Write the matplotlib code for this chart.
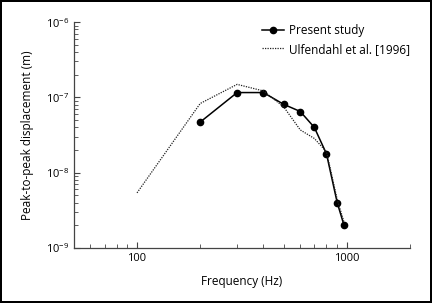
import matplotlib
matplotlib.use("Agg")
from matplotlib import pyplot as plt
from matplotlib.ticker import NullFormatter

plt.rcParams['font.family'] = ['Open Sans', 'DejaVu Sans']

# present study
freq_present = [200, 300, 400, 500, 600, 700, 800, 900, 970]
disp_present = [4.7e-8, 1.16e-7, 1.16e-7, 8.1e-8, 6.5e-8, 4.0e-8, 1.78e-8, 4.0e-9, 2.0e-9]

# Ulfendahl et al. [1996]
freq_ulf = [100, 200, 300, 400, 500, 600, 700, 800, 900, 970]
disp_ulf = [5.4e-9, 8.3e-8, 1.49e-7, 1.22e-7, 7.5e-8, 3.7e-8, 2.85e-8, 1.9e-8, 4.4e-9, 2.2e-9]

fig = plt.figure(figsize=(4.32, 3.03), dpi=100)
fig.patch.set_edgecolor('black')
fig.patch.set_linewidth(1.5)
ax = fig.add_axes([0.171, 0.1815, 0.778, 0.7455])

ax.plot(freq_present, disp_present, color='black', marker='o', markersize=4.5,
        linewidth=1.1, label='Present study')
ax.plot(freq_ulf, disp_ulf, color='#222222', linestyle=(0, (1, 1)), linewidth=0.9,
        label='Ulfendahl et al. [1996]')

ax.set_xscale('log')
ax.set_yscale('log')
ax.set_xlim(50, 2000)
ax.set_ylim(1e-9, 1e-6)
ax.set_xticks([100, 1000])
ax.set_xticklabels(['100', '1000'])
ax.xaxis.set_minor_formatter(NullFormatter())
ax.yaxis.set_minor_formatter(NullFormatter())

for s in ['top', 'right']:
    ax.spines[s].set_visible(False)
for s in ['left', 'bottom']:
    ax.spines[s].set_color('#444444')
    ax.spines[s].set_linewidth(0.9)
ax.tick_params(which='both', direction='in', color='#444444', labelsize=8)
ax.tick_params(which='major', length=4)
ax.tick_params(which='minor', length=3)

ax.set_xlabel('Frequency (Hz)', fontsize=8.5, labelpad=8)
ax.set_ylabel('Peak-to-peak displacement (m)', fontsize=8.5)
ax.yaxis.set_label_coords(-0.12, 0.5)

ax.legend(loc='upper right', frameon=False, fontsize=8.5, handlelength=1.8,
          handletextpad=0.5, bbox_to_anchor=(1.033, 1.04))

fig.savefig('out.png', dpi=100, edgecolor=fig.get_edgecolor())
